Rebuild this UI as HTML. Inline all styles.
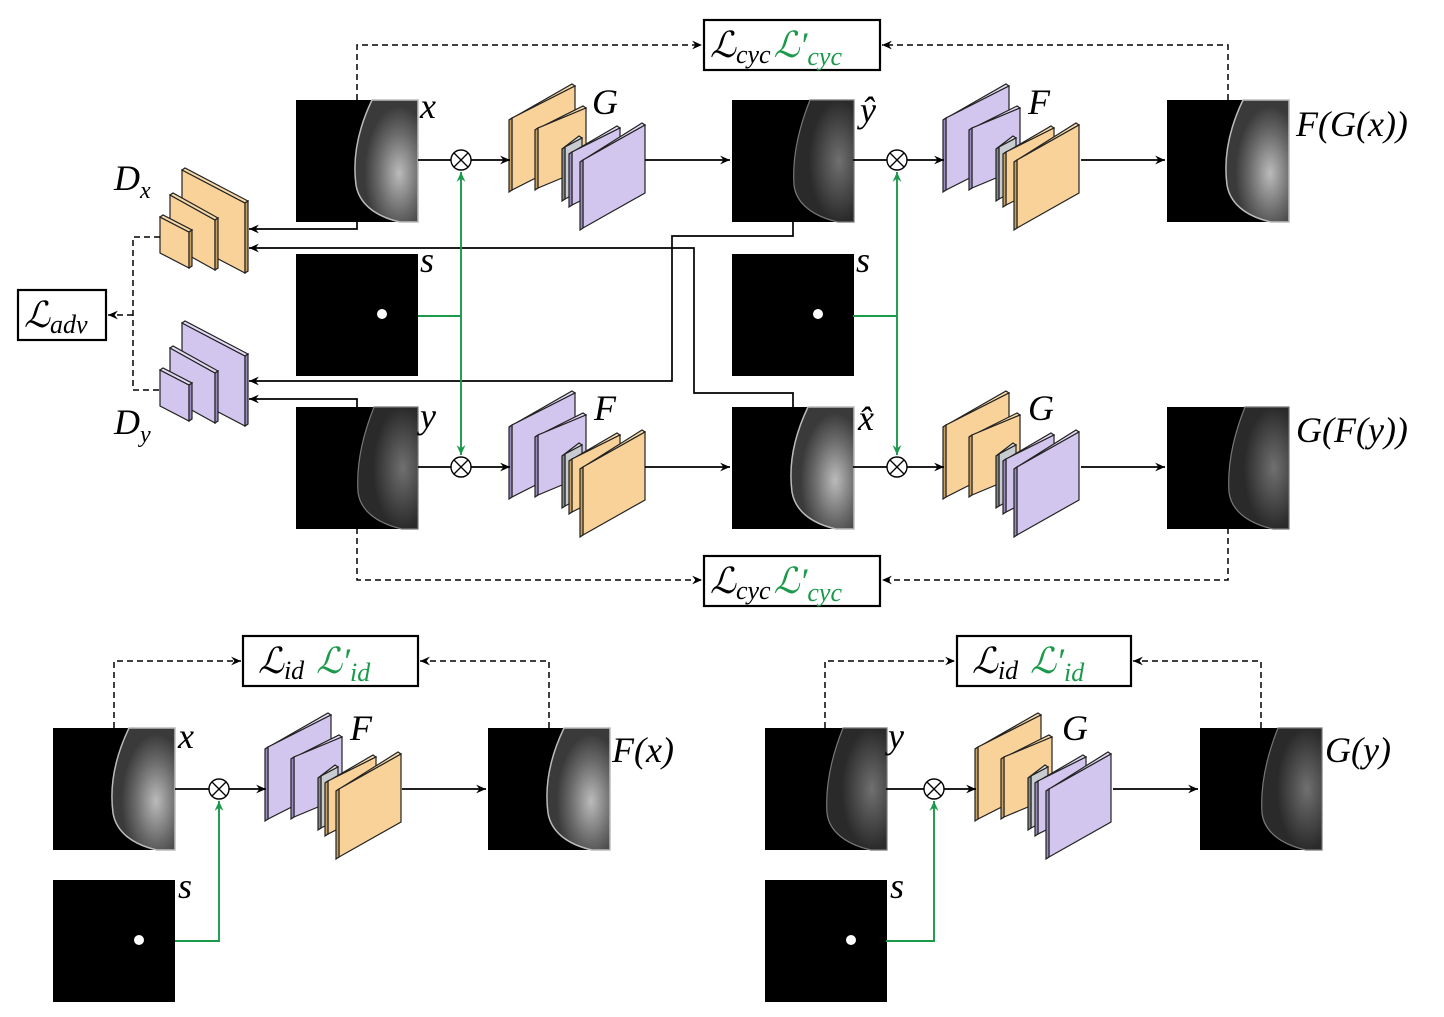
<!DOCTYPE html>
<html><head><meta charset="utf-8"><style>
html,body{margin:0;padding:0;background:#fff;}
svg text{font-family:"Liberation Serif","DejaVu Serif",serif;font-style:italic;}
</style></head><body>
<svg width="1444" height="1012" viewBox="0 0 1444 1012" xmlns="http://www.w3.org/2000/svg">
<defs>
<marker id="ar" viewBox="0 0 10 10" refX="9" refY="5" markerWidth="11" markerHeight="11" orient="auto" markerUnits="userSpaceOnUse"><path d="M0,1 L9,5 L0,9 L3,5 Z" fill="#000"/></marker>
<marker id="ag" viewBox="0 0 10 10" refX="9" refY="5" markerWidth="11" markerHeight="11" orient="auto" markerUnits="userSpaceOnUse"><path d="M0,1 L9,5 L0,9 L3,5 Z" fill="#1a9a4a"/></marker>
<radialGradient id="br" cx="0.7" cy="0.6" r="0.55"><stop offset="0" stop-color="#bbb"/><stop offset="0.6" stop-color="#6a6a6a"/><stop offset="1" stop-color="#3a3a3a"/></radialGradient>
<radialGradient id="bd" cx="0.75" cy="0.5" r="0.5"><stop offset="0" stop-color="#707070"/><stop offset="1" stop-color="#2a2a2a"/></radialGradient>
<g id="imgA"><rect width="122" height="122" fill="#000"/><path d="M122,0 L76,0 C64,25 56,55 60,85 C63,103 78,116 104,122 L122,122 Z" fill="url(#br)" stroke="#bbb" stroke-width="1.5"/></g>
<g id="imgB"><rect width="122" height="122" fill="#000"/><path d="M122,0 L78,0 C68,25 60,55 62,85 C64,103 80,116 106,122 L122,122 Z" fill="url(#bd)" stroke="#777" stroke-width="1.2"/></g>
<g id="mask"><rect width="122" height="122" fill="#000"/><circle cx="86" cy="60" r="5" fill="#fff"/></g>
<g id="genG" stroke="#222" stroke-width="1.2">
<polygon points="-3,34 60,-2 63,0 0,32" fill="#f6d9a8"/><polygon points="0,32 63,0 63,72 0,104" fill="#f9d29a"/><polygon points="-3,34 0,32 0,104 -3,106" fill="#c9a060"/>
<polygon points="23,44 71,20 74,22 26,42" fill="#f6d9a8"/><polygon points="26,42 74,22 74,82 26,102" fill="#f9d29a"/><polygon points="23,44 26,42 26,102 23,104" fill="#c9a060"/>
<polygon points="50,63 67,50 70,52 53,61" fill="#ddd"/><polygon points="53,61 70,52 70,104 53,113" fill="#c8ccd0"/><polygon points="50,63 53,61 53,113 50,115" fill="#888"/>
<polygon points="57,68 105,40 108,42 60,66" fill="#e2daf4"/><polygon points="60,66 108,42 108,95 60,119" fill="#d2c6ee"/><polygon points="57,68 60,66 60,119 57,121" fill="#9a8cc0"/>
<polygon points="68,76 130,37 133,39 71,74" fill="#e2daf4"/><polygon points="71,74 133,39 133,107 71,142" fill="#d2c6ee"/><polygon points="68,76 71,74 71,142 68,144" fill="#9a8cc0"/>
</g>
<g id="genF" stroke="#222" stroke-width="1.2">
<polygon points="-3,34 60,-2 63,0 0,32" fill="#e2daf4"/><polygon points="0,32 63,0 63,72 0,104" fill="#d2c6ee"/><polygon points="-3,34 0,32 0,104 -3,106" fill="#9a8cc0"/>
<polygon points="23,44 71,20 74,22 26,42" fill="#e2daf4"/><polygon points="26,42 74,22 74,82 26,102" fill="#d2c6ee"/><polygon points="23,44 26,42 26,102 23,104" fill="#9a8cc0"/>
<polygon points="50,63 67,50 70,52 53,61" fill="#ddd"/><polygon points="53,61 70,52 70,104 53,113" fill="#c8ccd0"/><polygon points="50,63 53,61 53,113 50,115" fill="#888"/>
<polygon points="57,68 105,40 108,42 60,66" fill="#f6d9a8"/><polygon points="60,66 108,42 108,95 60,119" fill="#f9d29a"/><polygon points="57,68 60,66 60,119 57,121" fill="#c9a060"/>
<polygon points="68,76 130,37 133,39 71,74" fill="#f6d9a8"/><polygon points="71,74 133,39 133,107 71,142" fill="#f9d29a"/><polygon points="68,76 71,74 71,142 68,144" fill="#c9a060"/>
</g>
<g id="ot"><circle r="10" fill="#fff" stroke="#000" stroke-width="1.4"/><path d="M-7,-7 L7,7 M7,-7 L-7,7" stroke="#000" stroke-width="1.3"/></g>
</defs>

<g stroke="#222" stroke-width="1.2">
<polygon points="182,170 245,203 245,273 182,240" fill="#f9d29a"/><polygon points="182,170 185,168 248,201 245,203" fill="#f6d9a8"/><polygon points="245,203 248,201 248,271 245,273" fill="#c9a060"/>
<polygon points="170,195 215,220 215,270 170,245" fill="#f9d29a"/><polygon points="170,195 173,193 218,218 215,220" fill="#f6d9a8"/><polygon points="215,220 218,218 218,268 215,270" fill="#c9a060"/>
<polygon points="160,217 189,232 189,268 160,253" fill="#f9d29a"/><polygon points="160,217 163,215 192,230 189,232" fill="#f6d9a8"/><polygon points="189,232 192,230 192,266 189,268" fill="#c9a060"/>
<g transform="translate(0,153)">
<polygon points="182,170 245,203 245,273 182,240" fill="#d2c6ee"/><polygon points="182,170 185,168 248,201 245,203" fill="#e2daf4"/><polygon points="245,203 248,201 248,271 245,273" fill="#9a8cc0"/>
<polygon points="170,195 215,220 215,270 170,245" fill="#d2c6ee"/><polygon points="170,195 173,193 218,218 215,220" fill="#e2daf4"/><polygon points="215,220 218,218 218,268 215,270" fill="#9a8cc0"/>
<polygon points="160,217 189,232 189,268 160,253" fill="#d2c6ee"/><polygon points="160,217 163,215 192,230 189,232" fill="#e2daf4"/><polygon points="189,232 192,230 192,266 189,268" fill="#9a8cc0"/>
</g></g>

<use href="#imgA" x="296" y="100"/>
<use href="#mask" x="296" y="254"/>
<use href="#imgB" x="296" y="407"/>
<use href="#imgB" x="732" y="100"/>
<use href="#mask" x="732" y="254"/>
<use href="#imgA" x="732" y="407"/>
<use href="#imgA" x="1167" y="100"/>
<use href="#imgB" x="1167" y="407"/>
<use href="#imgA" x="53" y="728"/>
<use href="#mask" x="53" y="880"/>
<use href="#imgA" x="488" y="728"/>
<use href="#imgB" x="765" y="728"/>
<use href="#mask" x="765" y="880"/>
<use href="#imgB" x="1200" y="728"/>

<use href="#genG" x="512" y="86"/>
<use href="#genF" x="946" y="86"/>
<use href="#genF" x="512" y="393"/>
<use href="#genG" x="946" y="393"/>
<use href="#genF" x="268" y="715"/>
<use href="#genG" x="978" y="715"/>

<g stroke="#000" stroke-width="1.7" fill="none">
<path d="M418,160 H451"/><path d="M471,160 H510" marker-end="url(#ar)"/><path d="M645,160 H730" marker-end="url(#ar)"/>
<path d="M853,160 H887"/><path d="M907,160 H944" marker-end="url(#ar)"/><path d="M1081,160 H1165" marker-end="url(#ar)"/>
<path d="M418,467 H451"/><path d="M471,467 H510" marker-end="url(#ar)"/><path d="M645,467 H730" marker-end="url(#ar)"/>
<path d="M853,467 H887"/><path d="M907,467 H944" marker-end="url(#ar)"/><path d="M1081,467 H1165" marker-end="url(#ar)"/>
<path d="M175,789 H209"/><path d="M229,789 H266" marker-end="url(#ar)"/><path d="M402,789 H486" marker-end="url(#ar)"/>
<path d="M886,789 H924"/><path d="M944,789 H976" marker-end="url(#ar)"/><path d="M1113,789 H1198" marker-end="url(#ar)"/>
<path d="M357,222 V229 H249" marker-end="url(#ar)"/>
<path d="M793,407 V393 H694 V248 H249" marker-end="url(#ar)"/>
<path d="M793,222 V236 H672 V381 H249" marker-end="url(#ar)"/>
<path d="M357,407 V399 H249" marker-end="url(#ar)"/>
</g>

<g stroke="#1a9a4a" stroke-width="1.9" fill="none">
<path d="M418,316 H461"/><path d="M461,316 V172" marker-end="url(#ag)"/><path d="M461,316 V455" marker-end="url(#ag)"/>
<path d="M853,316 H897"/><path d="M897,316 V172" marker-end="url(#ag)"/><path d="M897,316 V455" marker-end="url(#ag)"/>
<path d="M175,941 H219 V801" marker-end="url(#ag)"/>
<path d="M886,941 H934 V801" marker-end="url(#ag)"/>
</g>

<use href="#ot" x="461" y="160"/><use href="#ot" x="897" y="160"/>
<use href="#ot" x="461" y="467"/><use href="#ot" x="897" y="467"/>
<use href="#ot" x="219" y="789"/><use href="#ot" x="934" y="789"/>

<g stroke="#000" stroke-width="1.5" fill="none" stroke-dasharray="6,4">
<path d="M357,100 V45 H702" marker-end="url(#ar)"/>
<path d="M1228,100 V45 H882" marker-end="url(#ar)"/>
<path d="M357,528 V580 H702" marker-end="url(#ar)"/>
<path d="M1228,528 V580 H882" marker-end="url(#ar)"/>
<path d="M114,728 V661 H241" marker-end="url(#ar)"/>
<path d="M549,728 V661 H420" marker-end="url(#ar)"/>
<path d="M825,728 V661 H955" marker-end="url(#ar)"/>
<path d="M1261,728 V661 H1133" marker-end="url(#ar)"/>
<path d="M160,237 H133 V390 H160"/>
<path d="M133,315 H108" marker-end="url(#ar)"/>
</g>

<g fill="#fff" stroke="#000" stroke-width="2.2">
<rect x="704" y="20" width="176" height="50"/>
<rect x="704" y="556" width="176" height="50"/>
<rect x="243" y="636" width="175" height="50"/>
<rect x="957" y="636" width="174" height="50"/>
<rect x="18" y="290" width="88" height="50"/>
</g>
<g font-size="36">
<text x="710" y="57">ℒ<tspan font-size="26" dy="6">cyc</tspan><tspan fill="#1a9a4a" font-size="36" dy="-6" dx="3">ℒ′</tspan><tspan fill="#1a9a4a" font-size="26" dy="8">cyc</tspan></text>
<text x="710" y="593">ℒ<tspan font-size="26" dy="6">cyc</tspan><tspan fill="#1a9a4a" font-size="36" dy="-6" dx="3">ℒ′</tspan><tspan fill="#1a9a4a" font-size="26" dy="8">cyc</tspan></text>
<text x="258" y="673">ℒ<tspan font-size="26" dy="6">id</tspan><tspan fill="#1a9a4a" font-size="36" dy="-6" dx="12">ℒ′</tspan><tspan fill="#1a9a4a" font-size="26" dy="8">id</tspan></text>
<text x="972" y="673">ℒ<tspan font-size="26" dy="6">id</tspan><tspan fill="#1a9a4a" font-size="36" dy="-6" dx="12">ℒ′</tspan><tspan fill="#1a9a4a" font-size="26" dy="8">id</tspan></text>
<text x="24" y="327">ℒ<tspan font-size="26" dy="6">adv</tspan></text>
</g>

<g font-size="36">
<text x="420" y="118">x</text><text x="592" y="114">G</text><text x="860" y="122">ŷ</text><text x="1028" y="114">F</text>
<text x="1296" y="136">F(G(x))</text>
<text x="420" y="272">s</text><text x="856" y="272">s</text>
<text x="420" y="428">y</text><text x="594" y="420">F</text><text x="858" y="430">x̂</text><text x="1028" y="420">G</text>
<text x="1296" y="442">G(F(y))</text>
<text x="114" y="190">D<tspan font-size="24" dy="8">x</tspan></text>
<text x="114" y="434">D<tspan font-size="24" dy="8">y</tspan></text>
<text x="178" y="748">x</text><text x="350" y="740">F</text><text x="612" y="762">F(x)</text>
<text x="888" y="748">y</text><text x="1062" y="740">G</text><text x="1325" y="762">G(y)</text>
<text x="178" y="898">s</text><text x="890" y="898">s</text>
</g>
</svg>
</body></html>
